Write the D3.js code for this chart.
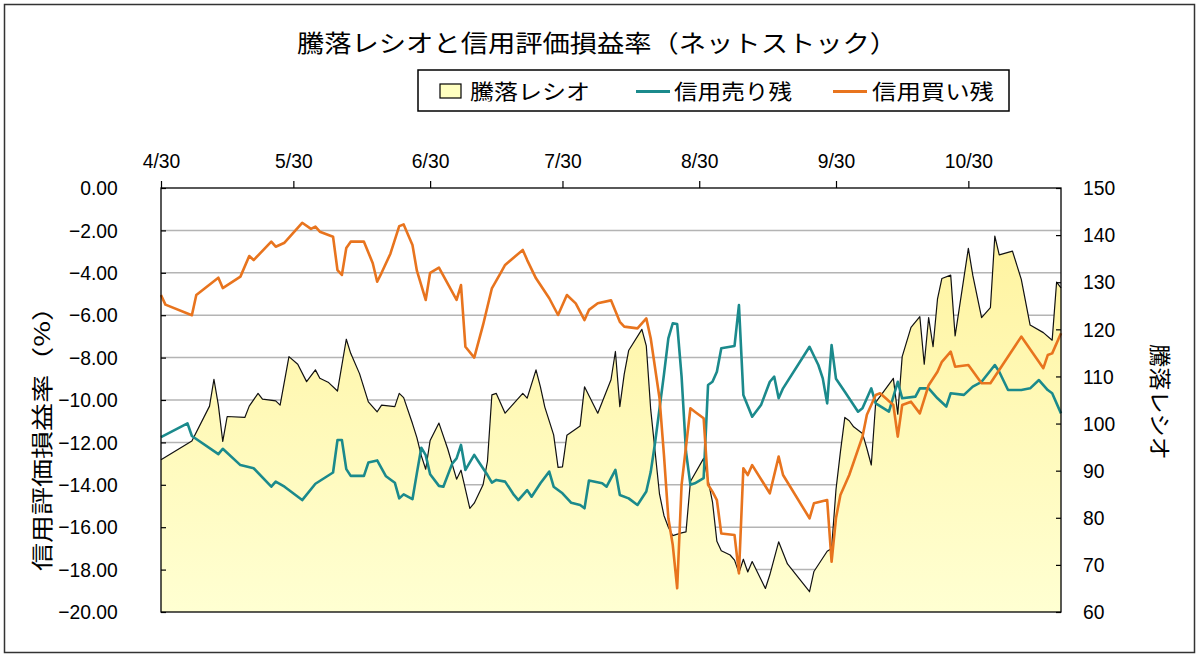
<!DOCTYPE html>
<html>
<head>
<meta charset="utf-8">
<script src="https://cdn.jsdelivr.net/npm/d3@7/dist/d3.min.js"></script>
<style>
  body { margin: 0; background: #fff; }
  text { fill: #000; }
</style>
</head>
<body>
<script>

const titleText = '騰落レシオと信用評価損益率（ネットストック）'
const seriesNames = ['騰落レシオ', '信用売り残', '信用買い残']
const leftAxisTitle = '信用評価損益率（%）'
const rightAxisTitle = '騰落レシオ'
const xTickLabels = ['4/30', '5/30', '6/30', '7/30', '8/30', '9/30', '10/30']
const leftTicks = [0, -2, -4, -6, -8, -10, -12, -14, -16, -18, -20]
const rightTicks = [150, 140, 130, 120, 110, 100, 90, 80, 70, 60]
const year = 2015
const xStart = '4/30'
const xEnd = '11/20'

// 騰落レシオ (right axis)
const ratio = [
    ['4/30', 92.3], ['5/7', 96.3], ['5/11', 103.7], ['5/12', 109.4], ['5/13', 103.9], ['5/14', 96.2],
    ['5/15', 101.5], ['5/19', 101.3], ['5/20', 103.7], ['5/22', 106.4], ['5/23', 105.2], ['5/26', 104.8],
    ['5/27', 103.9], ['5/29', 114.2], ['5/31', 112.6], ['6/2', 108.9], ['6/4', 111.4], ['6/5', 109.6],
    ['6/7', 108.7], ['6/9', 106.9], ['6/11', 117.9], ['6/12', 114.9], ['6/14', 110.6], ['6/16', 104.6],
    ['6/18', 102.5], ['6/19', 103.9], ['6/22', 103.6], ['6/23', 106.4], ['6/24', 105.5], ['6/26', 100.0],
    ['6/27', 97.0], ['6/28', 93.2], ['6/29', 90.3], ['6/30', 96.4], ['7/2', 100.1], ['7/4', 94.6],
    ['7/6', 88.2], ['7/7', 90.1], ['7/9', 82.0], ['7/10', 83.1], ['7/12', 87.0], ['7/13', 92.0],
    ['7/14', 106.1], ['7/15', 106.4], ['7/17', 102.2], ['7/21', 106.4], ['7/22', 105.4], ['7/24', 111.4],
    ['7/25', 107.8], ['7/26', 103.5], ['7/28', 97.6], ['7/29', 90.7], ['7/30', 90.8], ['7/31', 97.5],
    ['8/3', 99.5], ['8/4', 107.8], ['8/7', 102.2], ['8/10', 109.3], ['8/11', 115.3], ['8/12', 103.6],
    ['8/13', 110.5], ['8/14', 115.5], ['8/17', 120.0], ['8/18', 116.5], ['8/19', 103.0], ['8/21', 85.0],
    ['8/22', 80.5], ['8/23', 78.0], ['8/24', 76.2], ['8/26', 76.8], ['8/27', 77.0], ['8/28', 87.7],
    ['8/31', 92.6], ['9/1', 88.0], ['9/2', 83.4], ['9/3', 75.0], ['9/4', 73.0], ['9/6', 72.1],
    ['9/7', 71.0], ['9/8', 68.3], ['9/9', 71.2], ['9/10', 68.5], ['9/11', 70.7], ['9/14', 65.0],
    ['9/15', 67.9], ['9/17', 74.9], ['9/19', 70.2], ['9/24', 64.3], ['9/25', 68.6], ['9/28', 72.9],
    ['9/29', 73.5], ['9/30', 86.0], ['10/1', 94.0], ['10/2', 101.3], ['10/3', 100.6], ['10/4', 99.3],
    ['10/6', 97.9], ['10/7', 94.7], ['10/8', 91.2], ['10/9', 104.5], ['10/13', 109.6], ['10/14', 102.0],
    ['10/15', 114.2], ['10/17', 120.4], ['10/19', 122.7], ['10/20', 112.6], ['10/21', 122.5], ['10/22', 116.3],
    ['10/23', 126.4], ['10/24', 130.8], ['10/26', 131.5], ['10/27', 118.6], ['10/30', 137.2], ['10/31', 131.5],
    ['11/2', 122.5], ['11/4', 124.6], ['11/5', 139.8], ['11/6', 135.8], ['11/9', 136.6], ['11/11', 130.6],
    ['11/13', 120.9], ['11/16', 119.3], ['11/18', 117.7], ['11/19', 130.0], ['11/20', 128.8]
]

// 信用売り残 評価損益率 (left axis)
const sellRate = [
    ['4/30', -11.75], ['5/6', -11.1], ['5/7', -11.7], ['5/13', -12.55], ['5/14', -12.3], ['5/18', -13.07],
    ['5/21', -13.22], ['5/25', -14.09], ['5/26', -13.85], ['5/28', -14.09], ['6/1', -14.72], ['6/4', -13.95],
    ['6/8', -13.42], ['6/9', -11.89], ['6/10', -11.89], ['6/11', -13.26], ['6/12', -13.58], ['6/15', -13.58],
    ['6/16', -12.95], ['6/18', -12.85], ['6/19', -13.22], ['6/20', -13.6], ['6/22', -13.9], ['6/23', -14.64],
    ['6/24', -14.45], ['6/26', -14.68], ['6/27', -13.45], ['6/28', -12.25], ['6/29', -12.6], ['6/30', -13.5],
    ['7/2', -14.05], ['7/3', -14.09], ['7/5', -13.0], ['7/6', -12.75], ['7/7', -12.12], ['7/8', -13.3],
    ['7/10', -12.59], ['7/11', -12.91], ['7/13', -13.54], ['7/14', -13.9], ['7/15', -13.77], ['7/17', -13.85],
    ['7/19', -14.48], ['7/20', -14.72], ['7/22', -14.25], ['7/23', -14.56], ['7/25', -13.93], ['7/27', -13.38],
    ['7/28', -14.09], ['7/30', -14.4], ['8/1', -14.85], ['8/3', -14.95], ['8/4', -15.11], ['8/5', -13.8],
    ['8/8', -13.93], ['8/9', -14.09], ['8/11', -13.3], ['8/12', -14.48], ['8/14', -14.64], ['8/16', -14.95],
    ['8/18', -14.32], ['8/19', -13.4], ['8/20', -12.0], ['8/22', -8.8], ['8/23', -7.09], ['8/24', -6.38],
    ['8/25', -6.42], ['8/26', -8.9], ['8/27', -12.44], ['8/28', -14.0], ['8/29', -13.93], ['8/31', -13.69],
    ['9/1', -9.29], ['9/2', -9.14], ['9/3', -8.67], ['9/4', -7.56], ['9/7', -7.45], ['9/8', -5.52],
    ['9/9', -9.76], ['9/11', -10.79], ['9/13', -10.24], ['9/15', -9.14], ['9/16', -8.9], ['9/17', -9.92],
    ['9/18', -9.45], ['9/24', -7.49], ['9/26', -8.35], ['9/27', -8.98], ['9/28', -10.16], ['9/29', -7.41],
    ['9/30', -9.0], ['10/2', -9.61], ['10/5', -10.55], ['10/6', -10.39], ['10/8', -9.45], ['10/9', -10.16],
    ['10/12', -10.55], ['10/14', -9.14], ['10/15', -9.92], ['10/18', -9.84], ['10/19', -9.45], ['10/21', -9.45],
    ['10/23', -9.92], ['10/25', -10.31], ['10/26', -9.68], ['10/29', -9.76], ['10/31', -9.37], ['11/2', -9.14],
    ['11/5', -8.35], ['11/6', -8.67], ['11/8', -9.53], ['11/11', -9.53], ['11/13', -9.45], ['11/15', -9.06],
    ['11/17', -9.53], ['11/18', -9.68], ['11/20', -10.63]
]

// 信用買い残 評価損益率 (left axis)
const buyRate = [
    ['4/30', -5.05], ['5/1', -5.5], ['5/7', -6.0], ['5/8', -5.05], ['5/13', -4.23], ['5/14', -4.72],
    ['5/18', -4.18], ['5/20', -3.21], ['5/21', -3.4], ['5/25', -2.53], ['5/26', -2.77], ['5/28', -2.58],
    ['6/1', -1.64], ['6/3', -1.93], ['6/4', -1.82], ['6/5', -2.06], ['6/8', -2.3], ['6/9', -3.87],
    ['6/10', -4.1], ['6/11', -2.83], ['6/12', -2.53], ['6/15', -2.53], ['6/17', -3.55], ['6/18', -4.42],
    ['6/19', -4.0], ['6/21', -3.1], ['6/23', -1.8], ['6/24', -1.72], ['6/26', -2.69], ['6/27', -3.9],
    ['6/29', -5.28], ['6/30', -4.0], ['7/2', -3.76], ['7/6', -5.28], ['7/7', -4.58], ['7/8', -7.49],
    ['7/10', -8.0], ['7/12', -6.46], ['7/14', -4.73], ['7/16', -4.0], ['7/17', -3.63], ['7/21', -2.92],
    ['7/22', -3.4], ['7/24', -4.26], ['7/27', -5.2], ['7/29', -5.99], ['7/31', -5.05], ['8/2', -5.44],
    ['8/4', -6.23], ['8/5', -5.75], ['8/7', -5.44], ['8/10', -5.3], ['8/12', -6.31], ['8/13', -6.54],
    ['8/16', -6.62], ['8/18', -6.15], ['8/19', -7.09], ['8/21', -9.92], ['8/22', -12.59], ['8/23', -15.58],
    ['8/24', -16.84], ['8/25', -18.88], ['8/26', -14.0], ['8/28', -10.39], ['8/29', -10.55], ['8/31', -10.86],
    ['9/1', -14.0], ['9/2', -14.32], ['9/3', -14.72], ['9/4', -16.3], ['9/7', -16.37], ['9/8', -18.18],
    ['9/9', -13.22], ['9/10', -13.54], ['9/11', -13.07], ['9/15', -14.4], ['9/17', -12.67], ['9/18', -13.54],
    ['9/24', -15.58], ['9/25', -14.87], ['9/28', -14.72], ['9/29', -17.63], ['9/30', -15.57], ['10/1', -14.48],
    ['10/3', -13.54], ['10/6', -11.73], ['10/7', -10.7], ['10/9', -9.76], ['10/10', -9.68], ['10/13', -10.24],
    ['10/14', -11.73], ['10/15', -10.24], ['10/17', -10.08], ['10/19', -10.63], ['10/21', -9.3], ['10/23', -8.67],
    ['10/24', -8.2], ['10/26', -7.72], ['10/27', -8.43], ['10/30', -8.35], ['11/2', -9.21], ['11/4', -9.21],
    ['11/11', -7.01], ['11/16', -8.5], ['11/17', -7.88], ['11/18', -7.8], ['11/20', -6.85]
]

const parseDay = d3.timeParse('%Y/%m/%d')
const toDate = s => parseDay(year + '/' + s)
const toPoints = arr => arr.map(([d, v]) => ({date: toDate(d), value: v}))

const plot = {left: 161, right: 1061, top: 188, bottom: 612}
const numFont = '"Liberation Sans", Arial, sans-serif'
const jpFont = '"Noto Sans CJK JP", sans-serif'
const stretch = 0.92

const svg = d3.select('body').append('svg')
    .attr('width', 1200)
    .attr('height', 659)

const defs = svg.append('defs')
const grad = defs.append('linearGradient')
    .attr('id', 'ratioFill')
    .attr('gradientUnits', 'userSpaceOnUse')
    .attr('x1', 0).attr('y1', plot.top)
    .attr('x2', 0).attr('y2', plot.bottom)
grad.append('stop').attr('offset', '0%').attr('stop-color', '#fff29a')
grad.append('stop').attr('offset', '100%').attr('stop-color', '#ffffd2')

// outer frame
svg.append('rect')
    .attr('x', 4.5).attr('y', 4.5)
    .attr('width', 1190).attr('height', 648)
    .attr('fill', '#fff')
    .attr('stroke', '#333')
    .attr('stroke-width', 1.5)

const x = d3.scaleTime()
    .domain([toDate(xStart), toDate(xEnd)])
    .range([plot.left, plot.right])
const yLeft = d3.scaleLinear().domain([-20, 0]).range([plot.bottom, plot.top])
const yRight = d3.scaleLinear().domain([60, 150]).range([plot.bottom, plot.top])

// gridlines
svg.append('g')
    .selectAll('line')
    .data(leftTicks.filter(t => t !== 0 && t !== -20))
    .join('line')
    .attr('x1', plot.left).attr('x2', plot.right)
    .attr('y1', d => yLeft(d)).attr('y2', d => yLeft(d))
    .attr('stroke', '#b4b4b4')
    .attr('stroke-width', 1.5)

// 騰落レシオ area
const ratioPts = toPoints(ratio)
svg.append('path')
    .datum(ratioPts)
    .attr('fill', 'url(#ratioFill)')
    .attr('d', d3.area()
        .x(d => x(d.date))
        .y0(yRight(60))
        .y1(d => yRight(d.value)))

svg.append('path')
    .datum(ratioPts)
    .attr('fill', 'none')
    .attr('stroke', '#111')
    .attr('stroke-width', 1.2)
    .attr('stroke-linejoin', 'round')
    .attr('d', d3.line().x(d => x(d.date)).y(d => yRight(d.value)))

const leftLine = d3.line().x(d => x(d.date)).y(d => yLeft(d.value))

svg.append('path')
    .datum(toPoints(sellRate))
    .attr('fill', 'none')
    .attr('stroke', '#1b8a8c')
    .attr('stroke-width', 2.6)
    .attr('stroke-linejoin', 'round')
    .attr('d', leftLine)

svg.append('path')
    .datum(toPoints(buyRate))
    .attr('fill', 'none')
    .attr('stroke', '#e8741e')
    .attr('stroke-width', 2.6)
    .attr('stroke-linejoin', 'round')
    .attr('d', leftLine)

// plot border
svg.append('rect')
    .attr('x', plot.left).attr('y', plot.top)
    .attr('width', plot.right - plot.left)
    .attr('height', plot.bottom - plot.top)
    .attr('fill', 'none')
    .attr('stroke', '#000')
    .attr('stroke-width', 1.3)

function styleAxis (g, size){
    g.select('.domain').remove()
    g.selectAll('line').attr('stroke', '#000').attr('stroke-width', 1.2)
    g.selectAll('text')
        .attr('fill', '#000')
        .style('font-family', numFont)
        .style('font-size', size + 'px')
        .attr('transform', 'scale(' + stretch + ',1)')
}

// top date axis
const xAxis = svg.append('g')
    .attr('transform', 'translate(0,' + plot.top + ')')
    .call(d3.axisTop(x)
        .tickValues(xTickLabels.map(toDate))
        .tickFormat(d3.timeFormat('%-m/%-d'))
        .tickSize(7)
        .tickPadding(13))
styleAxis(xAxis, 21)
xAxis.selectAll('text').attr('x', 0)

const leftAxis = svg.append('g')
    .attr('transform', 'translate(' + plot.left + ',0)')
    .call(d3.axisLeft(yLeft)
        .tickValues(leftTicks)
        .tickFormat(d3.format('.2f'))
        .tickSize(-5)
        .tickPadding(47))
styleAxis(leftAxis, 21)

const rightAxis = svg.append('g')
    .attr('transform', 'translate(' + plot.right + ',0)')
    .call(d3.axisRight(yRight)
        .tickValues(rightTicks)
        .tickSize(-5)
        .tickPadding(24))
styleAxis(rightAxis, 21)

// title
svg.append('text')
    .attr('x', 597).attr('y', 52)
    .attr('text-anchor', 'middle')
    .attr('textLength', 600)
    .attr('lengthAdjust', 'spacingAndGlyphs')
    .style('font-family', jpFont)
    .style('font-size', '24px')
    .text(titleText)

// axis titles
svg.append('text')
    .attr('transform', 'translate(50,432) rotate(-90)')
    .attr('text-anchor', 'middle')
    .attr('textLength', 278)
    .attr('lengthAdjust', 'spacingAndGlyphs')
    .style('font-family', jpFont)
    .style('font-size', '22px')
    .text(leftAxisTitle)

svg.append('text')
    .attr('transform', 'translate(1152,402) rotate(90)')
    .attr('text-anchor', 'middle')
    .attr('textLength', 116)
    .attr('lengthAdjust', 'spacingAndGlyphs')
    .style('font-family', jpFont)
    .style('font-size', '22px')
    .text(rightAxisTitle)

// legend
const legend = svg.append('g')
legend.append('rect')
    .attr('x', 418).attr('y', 70)
    .attr('width', 591).attr('height', 41)
    .attr('fill', '#fff')
    .attr('stroke', '#000')
    .attr('stroke-width', 1.5)

const legendItems = [
    {name: seriesNames[0], kind: 'box', color: '#ffffc0', x: 440, textX: 470, textW: 120},
    {name: seriesNames[1], kind: 'line', color: '#1b8a8c', x: 636, textX: 674, textW: 118},
    {name: seriesNames[2], kind: 'line', color: '#e8741e', x: 833, textX: 872, textW: 122}
]

legendItems.forEach(item => {
    if (item.kind === 'box'){
        legend.append('rect')
            .attr('x', item.x).attr('y', 84)
            .attr('width', 21).attr('height', 14)
            .attr('fill', item.color)
            .attr('stroke', '#000')
            .attr('stroke-width', 1.2)
    } else {
        legend.append('line')
            .attr('x1', item.x).attr('x2', item.x + 34)
            .attr('y1', 91.5).attr('y2', 91.5)
            .attr('stroke', item.color)
            .attr('stroke-width', 3)
    }
    legend.append('text')
        .attr('x', item.textX).attr('y', 99)
        .attr('textLength', item.textW)
        .attr('lengthAdjust', 'spacingAndGlyphs')
        .style('font-family', jpFont)
        .style('font-size', '21px')
        .text(item.name)
})

</script>
</body>
</html>
